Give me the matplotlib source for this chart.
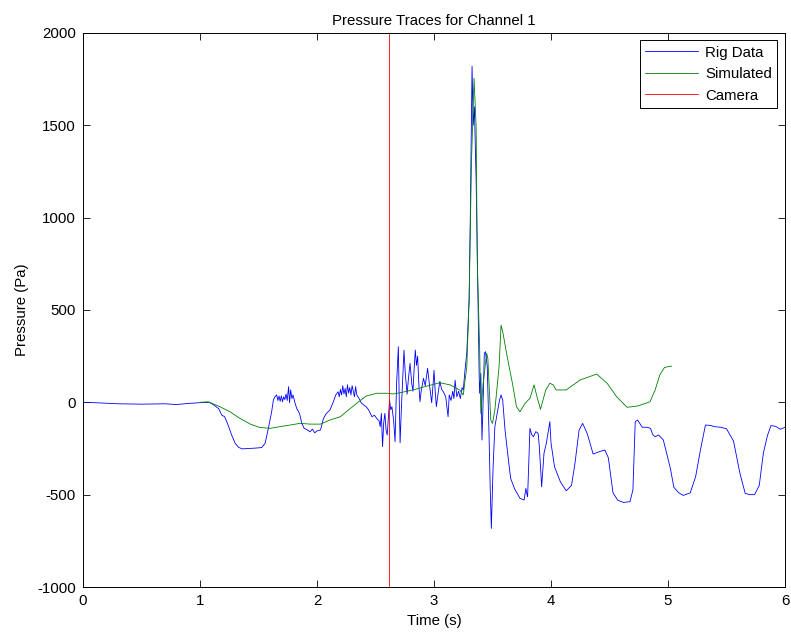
import matplotlib
matplotlib.use("Agg")
import matplotlib.pyplot as plt

plt.rcParams['font.family'] = ['Liberation Sans', 'DejaVu Sans']
plt.rcParams['axes.unicode_minus'] = False

title = "Pressure Traces for Channel 1"
xlabel = "Time (s)"
ylabel = "Pressure (Pa)"
legend_labels = ["Rig Data", "Simulated", "Camera"]

rig_t = [0.0, 0.1, 0.2, 0.3, 0.5, 0.7, 0.8, 0.9, 1.0, 1.08, 1.12, 1.16, 1.185, 1.21, 1.24, 1.27,
         1.30, 1.33, 1.36, 1.42, 1.47, 1.527, 1.556, 1.584, 1.612, 1.627, 1.64, 1.655, 1.665,
         1.675, 1.685, 1.695, 1.705, 1.715, 1.725, 1.735, 1.745, 1.757, 1.765, 1.775, 1.785,
         1.795, 1.81, 1.826, 1.85, 1.87, 1.89, 1.92, 1.94, 1.96, 1.98, 2.0, 2.03, 2.055, 2.08,
         2.11, 2.14, 2.16, 2.18, 2.19, 2.20, 2.21, 2.22, 2.23, 2.24, 2.25, 2.26, 2.27, 2.28,
         2.29, 2.30, 2.31, 2.32, 2.33, 2.34, 2.36, 2.38, 2.40, 2.42, 2.44, 2.47, 2.49, 2.51,
         2.53, 2.54, 2.55, 2.56, 2.57, 2.58, 2.59, 2.60, 2.61, 2.62, 2.63, 2.64, 2.655, 2.667,
         2.68, 2.695, 2.703, 2.71, 2.72, 2.73, 2.743, 2.755, 2.77, 2.78, 2.795, 2.81, 2.82,
         2.83, 2.84, 2.85, 2.86, 2.87, 2.88, 2.89, 2.91, 2.925, 2.945, 2.96, 2.98, 2.99, 3.0,
         3.01, 3.02, 3.035, 3.05, 3.065, 3.08, 3.10, 3.12, 3.13, 3.145, 3.16, 3.17, 3.18,
         3.195, 3.21, 3.225, 3.24, 3.25, 3.265, 3.28, 3.30, 3.31, 3.325, 3.335, 3.345, 3.36,
         3.37, 3.377, 3.386, 3.39, 3.40, 3.41, 3.42, 3.43, 3.44, 3.455, 3.47, 3.48, 3.49,
         3.505, 3.52, 3.54, 3.56, 3.573, 3.587, 3.607, 3.636, 3.655, 3.69, 3.735, 3.77, 3.785,
         3.795, 3.80, 3.82, 3.835, 3.85, 3.87, 3.89, 3.90, 3.92, 3.94, 3.96, 3.99, 4.0, 4.03,
         4.08, 4.13, 4.175, 4.205, 4.24, 4.27, 4.31, 4.36, 4.40, 4.46, 4.49, 4.53, 4.57, 4.62,
         4.675, 4.70, 4.72, 4.74, 4.78, 4.82, 4.85, 4.87, 4.89, 4.92, 4.96, 4.99, 5.02, 5.05,
         5.09, 5.13, 5.19, 5.236, 5.28, 5.32, 5.36, 5.40, 5.45, 5.50, 5.56, 5.615, 5.66, 5.70,
         5.74, 5.78, 5.815, 5.85, 5.88, 5.92, 5.96, 6.0]
rig_p = [0, -2, -5, -8, -10, -8, -12, -6, -2, 0, -15, -35, -69, -78, -123, -177,
         -222, -244, -252, -250, -248, -245, -222, -141, -51, 12, 30, 40, 10,
         34, 5, 35, 3, 30, 15, 45, 10, 85, -2, 67, 20,
         40, 0, -33, -60, -114, -141, -150, -160, -145, -165, -155, -150, -87, -60,
         -42, 3, 40, 57, 30, 70, 40, 90, 45, 75, 30, 95, 50, 80,
         40, 90, 60, 30, 85, 40, 20, -5, -15, -24, -40, -78, -70, -87,
         -100, -132, -60, -240, -110, -60, -150, -177, -80, 12, -40, -24, -100, -213,
         100, 301, 0, -219, -50, 100, 282, 150, 44, 120, 211, 100, 60,
         180, 283, 200, 250, 100, 3, 60, 130, 90, 184, 100, -2, 80, 173,
         60, -24, 50, 114, 70, 57, 30, -78, 40, 10, 60, 20, 120,
         30, 60, 20, 80, 66, 175, 267, 554, 1000, 1820, 1500, 1600, 1200,
         800, 554, 139, 49, 157, -204, 12, 265, 274, 193, -168, -457, -683,
         -349, -132, -60, 12, 40, 12, -150, -312, -412, -470, -520, -529, -466,
         -500, -510, -141, -175, -186, -159, -168, -240, -457, -276, -222, -105, -220, -349,
         -430, -479, -450, -330, -150, -114, -170, -280, -270, -258, -300, -490, -530, -542,
         -538, -475, -105, -96, -135, -135, -141, -175, -186, -177, -204, -280, -357, -460,
         -489, -504, -490, -403, -249, -123, -125, -132, -135, -143, -210, -385, -493, -500,
         -500, -450, -276, -180, -126, -130, -146, -135]

sim_t = [1.0, 1.07, 1.17, 1.256, 1.34, 1.43, 1.51, 1.60, 1.68, 1.77, 1.855, 1.94, 2.03, 2.11,
         2.20, 2.25, 2.34, 2.42, 2.51, 2.60, 2.65, 2.71, 2.82, 2.94, 3.05, 3.14, 3.19, 3.22,
         3.25, 3.28, 3.30, 3.32, 3.342, 3.36, 3.37, 3.39, 3.40, 3.42, 3.45, 3.46, 3.485, 3.50,
         3.52, 3.556, 3.573, 3.59, 3.62, 3.67, 3.705, 3.735, 3.778, 3.82, 3.855, 3.88, 3.91,
         3.955, 3.99, 4.02, 4.043, 4.13, 4.25, 4.39, 4.48, 4.56, 4.65, 4.74, 4.846, 4.89,
         4.93, 4.97, 5.03]
sim_p = [0, 3, -24, -51, -87, -118, -136, -141, -132, -123, -114, -118, -118, -96,
         -78, -51, -5, 34, 49, 49, 45, 52, 67, 88, 106, 94, 76, 67,
         40, 193, 554, 1300, 1754, 1492, 753, 292, -60, 103, 265, 238, -96, -114,
         -42, 193, 418, 373, 265, 103, -24, -51, -6, 22, 94, 31, -38,
         67, 103, 94, 67, 67, 121, 153, 103, 31, -27, -20, 3, 67,
         148, 189, 196]

camera_t = 2.615

fs = 10.8
fig = plt.figure(figsize=(7.91, 6.34), dpi=100)
ax = fig.add_axes([0.105, 0.0741, 0.8874, 0.874])

ax.plot(rig_t, rig_p, color=(0, 0, 1), lw=0.6, label=legend_labels[0])
ax.plot(sim_t, sim_p, color=(0, 0.5, 0), lw=0.6, label=legend_labels[1])
ax.axvline(camera_t, color=(1, 0, 0), lw=0.6, label=legend_labels[2])

ax.set_xlim(0, 6)
ax.set_ylim(-1000, 2000)
ax.set_xticks(range(0, 7))
ax.set_yticks(range(-1000, 2001, 500))
ax.tick_params(direction='in', top=True, right=True, labelsize=fs, length=5, width=0.6, pad=5)
for s in ax.spines.values():
    s.set_linewidth(0.7)
    s.set_color('black')

ax.set_title(title, fontsize=fs, pad=6)
ax.set_xlabel(xlabel, fontsize=fs, labelpad=4)
ax.set_ylabel(ylabel, fontsize=fs, labelpad=6)

leg = ax.legend(loc='upper right', fontsize=fs, fancybox=False, framealpha=1,
                edgecolor='black', borderaxespad=0.5, handlelength=3.5, handletextpad=0.5,
                labelspacing=0.5, borderpad=0.35)
leg.get_frame().set_linewidth(0.7)

fig.savefig("out.png", dpi=100)
